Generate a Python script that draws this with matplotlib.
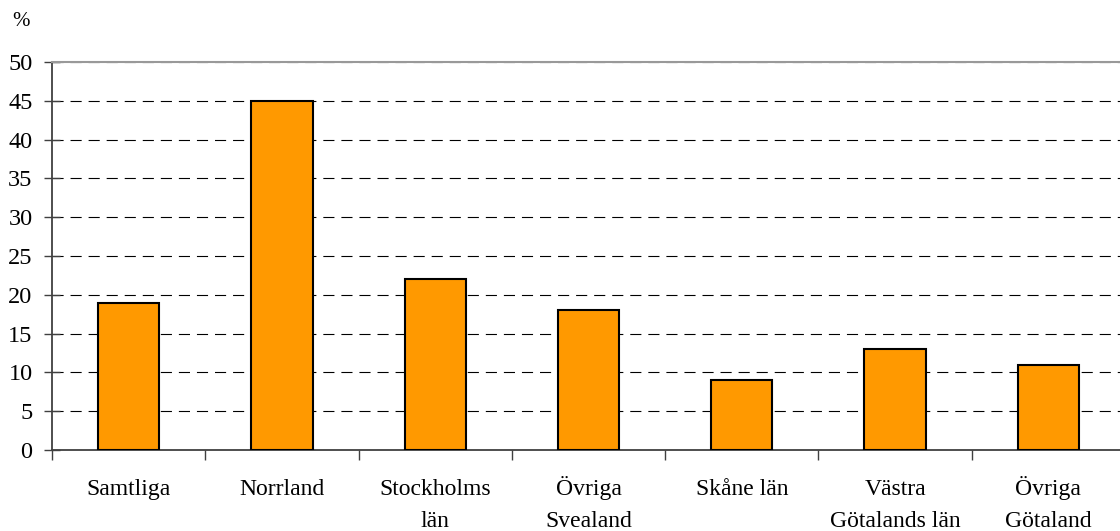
import matplotlib
matplotlib.use('Agg')
import matplotlib.pyplot as plt
import matplotlib.transforms as mtransforms
import numpy as np

# values
categories = ['Samtliga', 'Norrland', 'Stockholms\nlän', 'Övriga\nSvealand',
              'Skåne län', 'Västra\nGötalands län', 'Övriga\nGötaland']
values = [19, 45, 22, 18, 9, 13, 11]
y_ticks = [0, 5, 10, 15, 20, 25, 30, 35, 40, 45, 50]

plt.rcParams['font.family'] = ['Liberation Serif', 'DejaVu Serif']
plt.rcParams['lines.scale_dashes'] = False

fig = plt.figure(figsize=(11.2, 5.31), dpi=100)
# axes run slightly past the right edge, as in the reference
ax = fig.add_axes([52 / 1120, 81 / 531, 1073 / 1120, 388 / 531])

x = np.arange(len(categories))
ax.bar(x, values, width=0.4, color='#FF9900', edgecolor='black',
       linewidth=1.5, zorder=3)

ax.set_xlim(-0.5, len(categories) - 0.5)
ax.set_ylim(0, 50)
ax.set_yticks(y_ticks)
ax.set_yticklabels([str(v) for v in y_ticks], fontsize=17.5)

# category labels: each line on its own baseline so umlauts don't shift them
ax.set_xticks([])
trans = mtransforms.blended_transform_factory(ax.transData, fig.transFigure)
baselines = [495, 527]
for xi, label in zip(x, categories):
    for line, base in zip(label.split('\n'), baselines):
        ax.text(xi, 1 - base / 531, line, transform=trans, ha='center',
                va='baseline', fontsize=17)

# ticks between categories
ax.set_xticks(np.arange(len(categories) + 1) - 0.5, minor=True)
ax.tick_params(axis='x', which='minor', direction='out', length=7,
               width=1, color='#404040')
ax.tick_params(axis='y', direction='inout', length=12, width=1,
               color='#404040', pad=8)

ax.yaxis.grid(True, color='black', linewidth=0.8,
              linestyle=(0, (8, 5)), zorder=0)
ax.set_axisbelow(True)

for side in ['left', 'bottom']:
    ax.spines[side].set_color('#404040')
    ax.spines[side].set_linewidth(1.3)
ax.spines['top'].set_color('#999999')
ax.spines['top'].set_linewidth(1.5)
ax.spines['right'].set_visible(False)

fig.text(12 / 1120, 1 - 22 / 531, '%', fontsize=15, va='center', ha='left')

fig.savefig('out.png', dpi=100)
